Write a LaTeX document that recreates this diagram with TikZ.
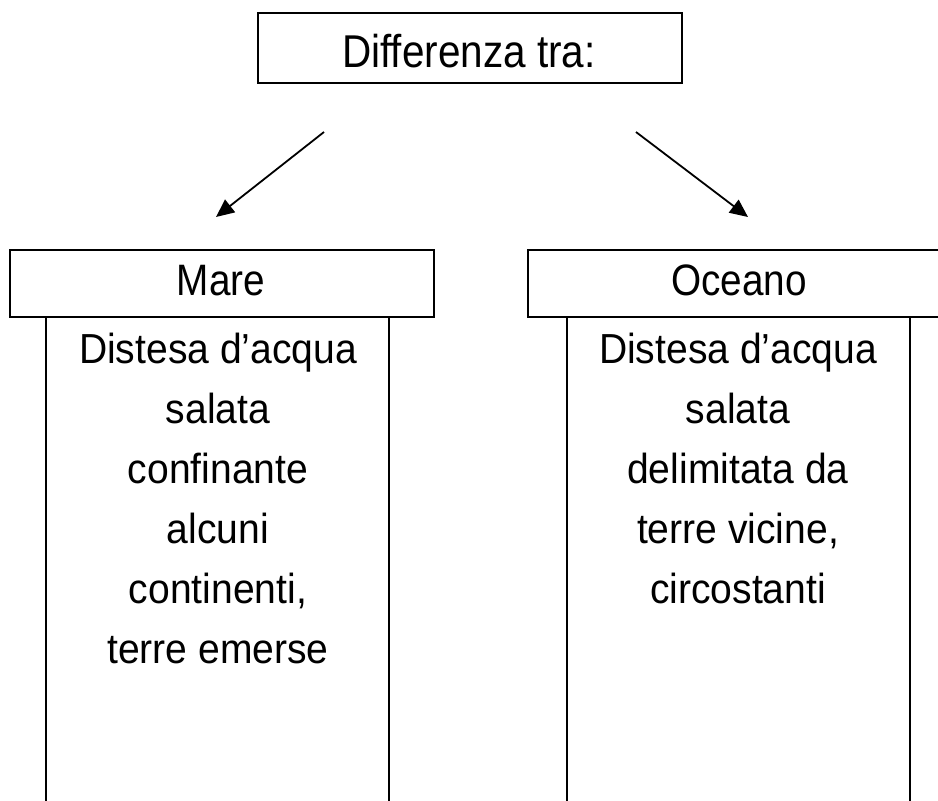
\documentclass[tikz,border=0pt]{standalone}
\usepackage{fontspec}
\setmainfont{Liberation Sans}[FakeStretch=0.88]
\newfontfamily\bodyfam{Liberation Sans}[FakeStretch=0.93]
\usetikzlibrary{arrows.meta}
\begin{document}
\begin{tikzpicture}[x=1pt,y=-1pt,
  frame/.style={draw=black,line width=1.8pt},
  box/.style={frame,rectangle,inner sep=0pt,anchor=north west},
  toptext/.style={font=\fontsize{46}{50}\selectfont},
  headtext/.style={font=\fontsize{44}{50}\selectfont},
  bodytext/.style={font=\bodyfam\fontsize{42}{60}\selectfont,align=center,inner sep=0pt,anchor=north},
  arr/.style={line width=1.8pt,-{Triangle[length=18pt,width=16pt]}}]
\useasboundingbox (0,0) rectangle (938,801);
\begin{scope}
\clip (0,0) rectangle (938,801);
% top box
\node[box,minimum width=424pt,minimum height=70pt] (top) at (257,12) {};
\node[toptext,anchor=base] (toplabel) at (469,67) {Differenza tra:};
% arrows
\coordinate (la) at (324,132);
\coordinate (lb) at (216,217);
\coordinate (ra) at (636,132);
\coordinate (rb) at (748,217);
\draw[arr] (la) -- (lb);
\draw[arr] (ra) -- (rb);
% left column
\node[box,minimum width=424pt,minimum height=67pt] (mare) at (9,249) {};
\node[headtext,anchor=base] (marelabel) at (221,295) {Mare};
\coordinate (ml1) at (46,316);
\coordinate (ml2) at (46,801);
\coordinate (mr1) at (389,316);
\coordinate (mr2) at (389,801);
\draw[frame] (ml1) -- (ml2);
\draw[frame] (mr1) -- (mr2);
\node[bodytext] (marebody) at (218,333) {Distesa d’acqua\\salata\\confinante\\alcuni\\continenti,\\terre emerse};
% right column
\node[box,minimum width=423pt,minimum height=67pt] (oceano) at (527,249) {};
\node[headtext,anchor=base] (oceanolabel) at (739,295) {Oceano};
\coordinate (ol1) at (567,316);
\coordinate (ol2) at (567,801);
\coordinate (or1) at (910,316);
\coordinate (or2) at (910,801);
\draw[frame] (ol1) -- (ol2);
\draw[frame] (or1) -- (or2);
\node[bodytext] (oceanobody) at (738,333) {Distesa d’acqua\\salata\\delimitata da\\terre vicine,\\circostanti};
\end{scope}
\end{tikzpicture}
\end{document}
